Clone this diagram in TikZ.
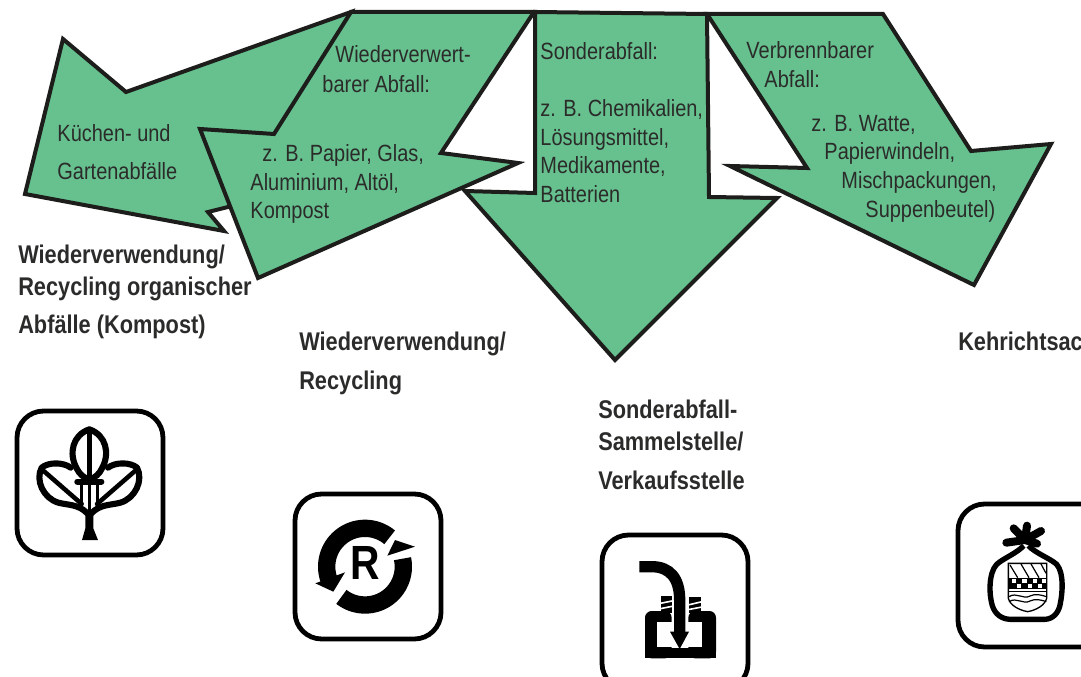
\documentclass[tikz,border=0pt]{standalone}
\usepackage{fontspec}
\setmainfont[FakeStretch=0.85]{Liberation Sans}
\definecolor{arrowgreen}{HTML}{66C18F}
\definecolor{ink}{HTML}{1D1D1B}
\definecolor{txt}{HTML}{2B2B2A}
\tikzset{
  wastearrow/.style={draw=ink,fill=arrowgreen,line width=3pt,line join=miter,miter limit=6},
  lab/.style={anchor=base west,inner sep=0pt,text=txt,xshift=-.6pt,yshift=-.75pt,font=\fontsize{17.6pt}{20pt}\selectfont},
  head/.style={anchor=base west,inner sep=0pt,text=txt,font=\fontsize{19.2pt}{21pt}\selectfont\bfseries},
  iconbox/.style={draw=black,fill=white,line width=3.6pt,rounded corners=20pt},
  ic/.style={draw=black,line width=4.6pt,line cap=round,line join=round},
  ring/.style={draw=black,line width=13pt,line cap=butt}
}
\begin{document}
\begin{tikzpicture}[x=0.75pt,y=-0.75pt]
\useasboundingbox (0,0) rectangle (1081,677);
% arrows
\draw[wastearrow] (351,12) -- (126,92) -- (63,39) -- (25,194) -- (224,231) -- (208,212) -- (228,207) -- (300,100) -- cycle;
\draw[wastearrow] (535,12) -- (707,14) -- (709,197) -- (777,198) -- (615,360) -- (465,191) -- (535,193) -- cycle;
\draw[wastearrow] (707,14) -- (883,14) -- (971,151) -- (1051,144) -- (974,285) -- (730,166) -- (807,168) -- cycle;
\draw[wastearrow] (351,12) -- (534,12) -- (441,153) -- (518,163) -- (258,278) -- (200,129) -- (274,134) -- cycle;
% arrow texts
\node[lab] (k1) at (58,141) {Küchen- und};
\node[lab] (k2) at (58,179) {Gartenabfälle};
\node[lab] (w1) at (336,62) {Wiederverwert-};
\node[lab] (w2) at (323,92) {barer Abfall:};
\node[lab] (w3) at (263,161) {z. B. Papier, Glas,};
\node[lab] (w4) at (251,190) {Aluminium, Altöl,};
\node[lab] (w5) at (251,218) {Kompost};
\node[lab] (s1) at (541,59) {Sonderabfall:};
\node[lab] (s2) at (541,116) {z. B. Chemikalien,};
\node[lab] (s3) at (541,145) {Lösungsmittel,};
\node[lab] (s4) at (541,173) {Medikamente,};
\node[lab] (s5) at (541,202) {Batterien};
\node[lab] (v1) at (747,58) {Verbrennbarer};
\node[lab] (v2) at (765,87) {Abfall:};
\node[lab] (v3) at (812,131) {z. B. Watte,};
\node[lab] (v4) at (825,159) {Papierwindeln,};
\node[lab] (v5) at (842,188) {Mischpackungen,};
\node[lab] (v6) at (866,217) {Suppenbeutel)};
% headings
\node[head] (h1) at (18,263) {Wiederverwendung/};
\node[head] (h2) at (18,296) {Recycling organischer};
\node[head] (h3) at (18,333) {Abfälle (Kompost)};
\node[head] (h4) at (299,350) {Wiederverwendung/};
\node[head] (h5) at (299,389) {Recycling};
\node[head] (h6) at (598,418) {Sonderabfall-};
\node[head] (h7) at (598,450) {Sammelstelle/};
\node[head] (h8) at (598,489) {Verkaufsstelle};
\node[head] (h9) at (958,350) {Kehrichtsac};
% boxes
\draw[iconbox] (17,411) rectangle (163,555);
\draw[iconbox] (295,494) rectangle (441,639);
\draw[iconbox] (602,535) rectangle (748,690);
\draw[iconbox] (958,504) rectangle (1120,647);
% leaf icon
\begin{scope}[shift={(0,400)},x=.25pt,y=-.25pt]
\draw[ic] (268,88) .. controls (218,105) and (205,160) .. (230,205) .. controls (238,222) and (250,232) .. (268,240)
  .. controls (286,232) and (298,222) .. (306,205) .. controls (331,160) and (318,105) .. (268,88) -- cycle;
\foreach \m/\o in {1/0,-1/536}{
\draw[ic] (\o+\m*125,203) .. controls (\o+\m*145,186) and (\o+\m*190,186) .. (\o+\m*212,203)
  (\o+\m*125,203) .. controls (\o+\m*105,240) and (\o+\m*130,295) .. (\o+\m*175,308) .. controls (\o+\m*205,316) and (\o+\m*235,312) .. (\o+\m*262,340);
\draw[ic,line width=3.4pt] (\o+\m*130,212) -- (\o+\m*245,312);
}
\draw[ic,line width=3.4pt] (268,88) -- (268,240);
\draw[ic] (232,245) -- (304,245);
\draw[ic,line width=2.7pt] (245,250) -- (245,318) (292,250) -- (292,318) (268,250) -- (268,340);
\fill[black] (256,330) -- (280,330) -- (280,385) -- (294,420) -- (246,420) -- (256,385) -- cycle;
\end{scope}
% recycling icon
\begin{scope}[shift={(280,485)},x=.25pt,y=-.25pt]
\draw[ring] plot[domain=50:200,samples=40] ({255+115*cos(\x)},{245-115*sin(\x)});
\fill[black] (106,295) -- (195,262) -- (160,320) -- cycle;
\draw[ring] plot[domain=232:372,samples=40] ({255+115*cos(\x)},{245-115*sin(\x)});
\fill[black] (405,185) -- (345,165) -- (322,212) -- cycle;
\node[inner sep=0pt,font=\fontsize{36pt}{38pt}\selectfont\bfseries] (rmark) at (257,234) {R};
\end{scope}
% bottle icon
\begin{scope}[shift={(590,525)},x=.25pt,y=-.25pt]
\fill[black,rounded corners=5pt] (165,400) -- (165,258) -- (212,258) -- (245,258) -- (245,400) -- cycle;
\fill[black,rounded corners=5pt] (378,400) -- (378,258) -- (295,258) -- (295,400) -- cycle;
\fill[black] (165,368) rectangle (378,400);
\fill[white] (200,292) rectangle (335,366);
\fill[black] (212,213) rectangle (245,265);
\fill[black] (298,216) rectangle (332,265);
\draw[white,line width=1.2pt] (206,236) -- (246,228) (206,252) -- (246,244) (294,240) -- (336,230) (294,254) -- (336,246);
\fill[white] (245,200) rectangle (295,368);
\draw[black,line width=8.5pt,line cap=butt] (148,125) -- (185,125) .. controls (240,125) and (269,160) .. (269,225) -- (269,325);
\fill[black] (240,320) -- (297,320) -- (269,372) -- cycle;
\end{scope}
% bag icon
\begin{scope}[shift={(945,495)},x=.25pt,y=-.25pt]
\draw[black,line width=6pt,line cap=round] (240,135) -- (206,100) (240,135) -- (246,92) (240,135) -- (288,108) (240,135) -- (184,143) (240,135) -- (276,146);
\draw[black,line width=4pt,line join=round] (236,152) .. controls (215,175) and (175,190) .. (155,208) .. controls (130,235) and (132,300) .. (142,332) .. controls (150,358) and (170,372) .. (195,373) -- (300,373) .. controls (325,372) and (342,352) .. (346,325) .. controls (352,295) and (358,235) .. (335,208) .. controls (315,190) and (272,175) .. (250,152);
\draw[black,line width=1pt] (190,205) -- (305,205) -- (305,310) .. controls (300,330) and (275,345) .. (248,350) .. controls (220,345) and (195,330) .. (190,310) -- cycle;
\draw[black,line width=.9pt] (195,210) -- (218,248) (228,207) -- (252,248) (258,207) -- (282,248) (288,207) -- (303,235);
\fill[black] (190,250) rectangle (305,282);
\foreach \x in {200,232,264,290}{\fill[white] (\x,252) rectangle +(13,13);}
\foreach \x in {216,248,278}{\fill[white] (\x,266) rectangle +(13,13);}
\draw[black,line width=.9pt] (192,305) .. controls (215,290) and (235,315) .. (255,303) .. controls (270,295) and (290,300) .. (304,305)
 (192,320) .. controls (215,305) and (235,330) .. (255,318) .. controls (270,310) and (290,315) .. (304,320);
\draw[black,line width=1.2pt] (190,290) -- (305,290);
\end{scope}
\end{tikzpicture}
\end{document}
